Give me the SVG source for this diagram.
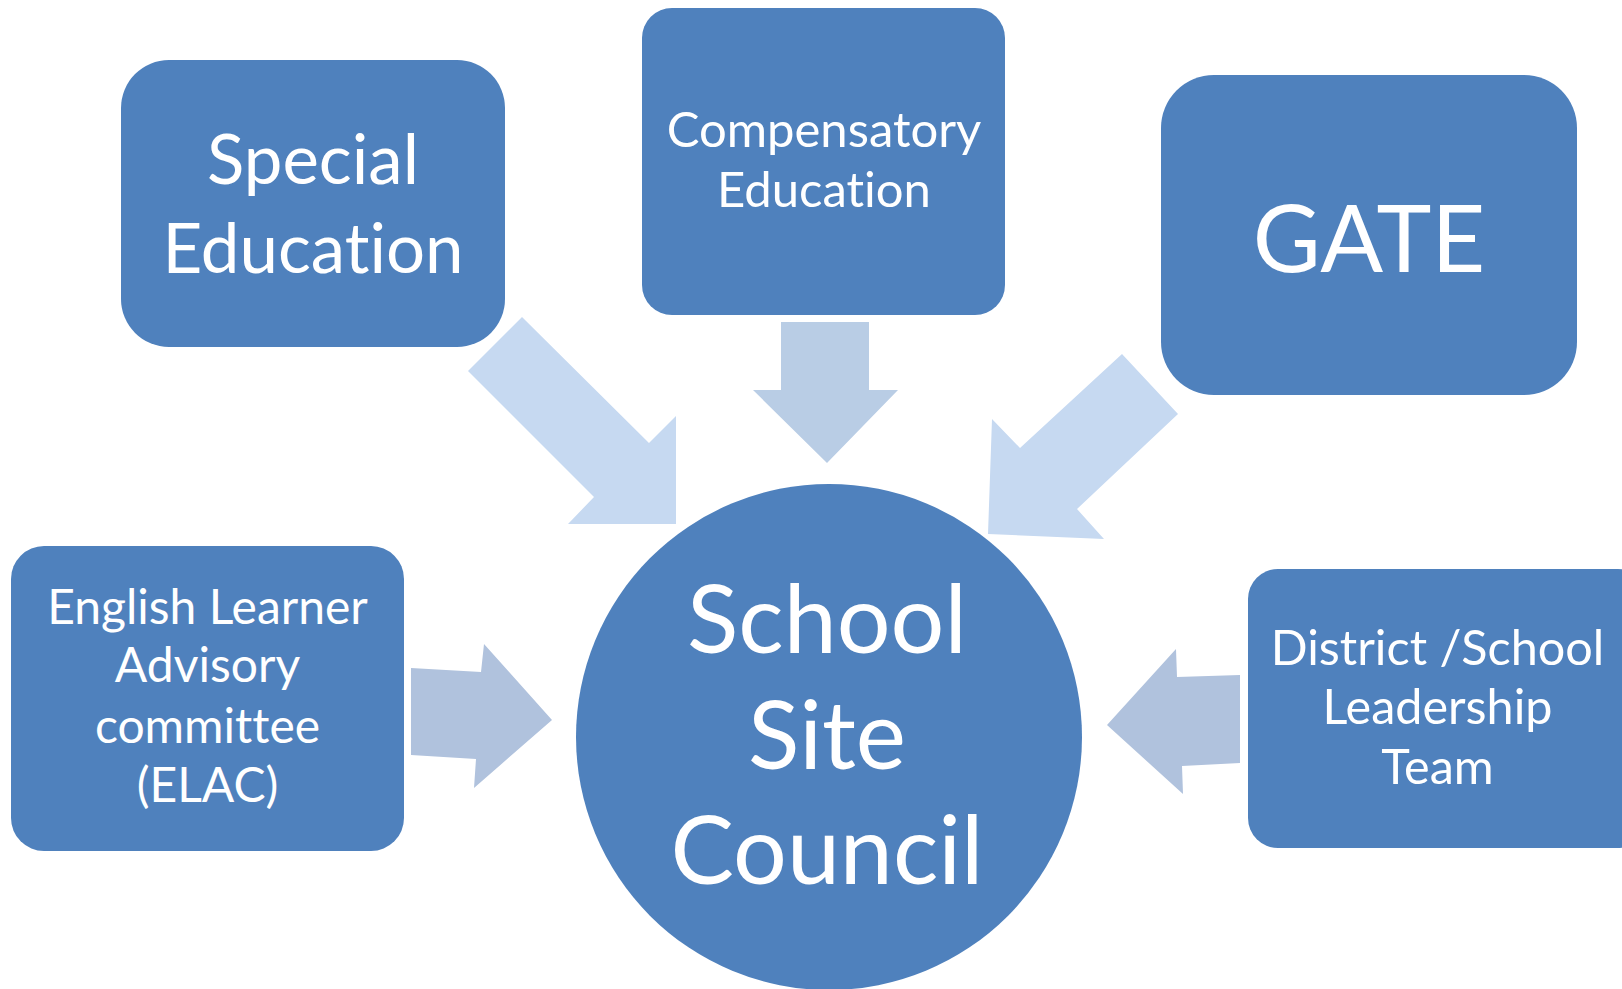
<svg xmlns="http://www.w3.org/2000/svg" width="1622" height="989" viewBox="0 0 1622 989">
<style>
.box{fill:#4f81bd}
.t{font-family:Lato,"Open Sans","Liberation Sans",sans-serif;fill:#ffffff;text-anchor:middle;font-variant-ligatures:none;font-feature-settings:"liga" 0,"clig" 0}
.a1{fill:#c6d9f1}
.a2{fill:#b9cde5}
.a3{fill:#b0c2dd}
</style>
<rect width="1622" height="989" fill="#ffffff"/>
<g id="connectors">
<polygon class="a1" points="522,317 649,443 676,416 676,524 568,524 594,497 468,371"/>
<polygon class="a2" points="781,322 869,322 869,390 898,390 827,463 753,390 781,390"/>
<polygon class="a1" points="1122,354 1178,414 1077,509 1104,539 988,534 992,419 1020,448"/>
<polygon class="a3" points="411,668 481,672 484,644 552,720 474,788 476,759 411,755"/>
<polygon class="a3" points="1240,675 1177,677 1176,649 1107,725 1183,794 1182,766 1240,763"/>
</g>
<g id="special-education">
<rect class="box" x="121" y="60" width="384" height="287" rx="48" ry="48"/>
<text class="t" x="313" y="184" font-size="69">Special</text>
<text class="t" x="313" y="273" font-size="69">Education</text>
</g>
<g id="compensatory-education">
<rect class="box" x="642" y="8" width="363" height="307" rx="30" ry="30"/>
<text class="t" x="824" y="147" font-size="49">Compensatory</text>
<text class="t" x="824" y="207" font-size="49">Education</text>
</g>
<g id="gate">
<rect class="box" x="1161" y="75" width="416" height="320" rx="53" ry="53"/>
<text class="t" x="1369" y="272" font-size="93">GATE</text>
</g>
<g id="elac">
<rect class="box" x="11" y="546" width="393" height="305" rx="33" ry="33"/>
<text class="t" x="207.5" y="624" font-size="48">English Learner</text>
<text class="t" x="207.5" y="682" font-size="48">Advisory</text>
<text class="t" x="207.5" y="743" font-size="48">committee</text>
<text class="t" x="207.5" y="802" font-size="48">(ELAC)</text>
</g>
<g id="district-school">
<rect class="box" x="1248" y="569" width="400" height="279" rx="30" ry="30"/>
<text class="t" x="1437.5" y="665" font-size="48.5">District /School</text>
<text class="t" x="1437.5" y="724" font-size="48.5">Leadership</text>
<text class="t" x="1437.5" y="784" font-size="48.5">Team</text>
</g>
<g id="school-site-council">
<circle class="box" cx="829" cy="737" r="253"/>
<text class="t" x="827" y="653" font-size="95">School</text>
<text class="t" x="827" y="769" font-size="95">Site</text>
<text class="t" x="827" y="884" font-size="95">Council</text>
</g>
</svg>
